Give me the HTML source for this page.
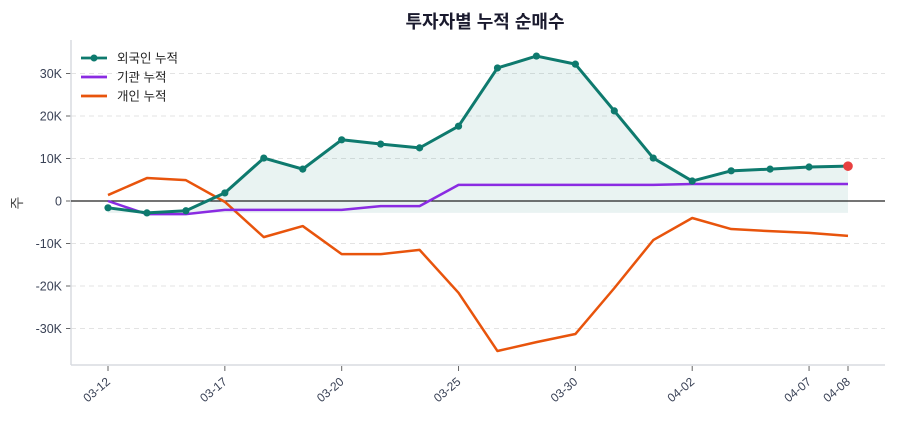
<!DOCTYPE html>
<html><head><meta charset="utf-8"><style>
body{margin:0;background:#fff;font-family:"Liberation Sans","Noto Sans CJK KR",sans-serif;}
</style></head><body>
<svg width="900" height="420" id="c" font-family="Liberation Sans, Noto Sans CJK KR, sans-serif">
<text x="485" y="28" text-anchor="middle" font-size="18" font-weight="bold" fill="#1a1a2e">투자자별 누적 순매수</text>
<text x="22" y="203" text-anchor="middle" font-size="14" fill="#444" transform="rotate(-90 22 203)">주</text>
<g id="g"></g>
</svg>
<script>
const labels=["03-12","03-13","03-14","03-17","03-18","03-19","03-20","03-21","03-24","03-25","03-26","03-27","03-30","03-31","04-01","04-02","04-03","04-04","04-07","04-08"];
const tickIdx=[0,3,6,9,12,15,18,19];
const foreign=[-1.6,-2.8,-2.3,1.9,10.1,7.5,14.4,13.4,12.5,17.6,31.3,34.1,32.2,21.2,10.1,4.7,7.1,7.5,8.0,8.2];
const inst=[0,-3.1,-3.1,-2.1,-2.1,-2.1,-2.1,-1.2,-1.2,3.8,3.8,3.8,3.8,3.8,3.8,4.0,4.0,4.0,4.0,4.0];
const indiv=[1.4,5.4,4.9,-0.2,-8.5,-5.9,-12.5,-12.5,-11.5,-21.6,-35.3,-33.2,-31.3,-20.5,-9.2,-4.0,-6.6,-7.1,-7.5,-8.2];
const yTicks=[-30,-20,-10,0,10,20,30];
const X=i=>108+i*(848-108)/19, Y=v=>201-v*4.25;
const g=document.getElementById('g'),NS="http://www.w3.org/2000/svg";
function el(t,a,txt){const e=document.createElementNS(NS,t);for(const k in a)e.setAttribute(k,a[k]);if(txt!=null)e.textContent=txt;g.appendChild(e);return e;}
yTicks.forEach(v=>{
 if(v!==0){const l=el('line',{x1:71,x2:885,y1:Y(v),y2:Y(v),stroke:'#e3e3e3','stroke-dasharray':'5,4'});
 
 }
 el('line',{x1:66,x2:71,y1:Y(v),y2:Y(v),stroke:'#666'});
 const t=el('text',{x:62,y:Y(v)+4.5,'text-anchor':'end','font-size':12.5,fill:'#3a4256'},v===0?'0':v+'K');
 
 
});
el('line',{x1:71,x2:71,y1:40,y2:365,stroke:'#d8dbe0','stroke-width':1.5});
el('line',{x1:71,x2:885,y1:365,y2:365,stroke:'#d8dbe0','stroke-width':1.5});
tickIdx.forEach(i=>{
 el('line',{x1:X(i),x2:X(i),y1:366,y2:371,stroke:'#666'});
 const t=el('text',{x:X(i)+3,y:383,'text-anchor':'end','font-size':12,fill:'#3a4256',transform:`rotate(-40 ${X(i)+3} 383)`},labels[i]);
 
 
});
const base=Math.min(...foreign);
let d=foreign.map((v,i)=>(i?'L':'M')+X(i)+','+Y(v)).join('')+`L${X(19)},${Y(base)}L${X(0)},${Y(base)}Z`;
const a=el('path',{d:d,fill:'#0e7a6e','fill-opacity':0.09});


el('line',{x1:71,x2:885,y1:Y(0),y2:Y(0),stroke:'#222','stroke-width':1.2});
function line(arr,col,name,w){const p=el('polyline',{points:arr.map((v,i)=>X(i)+','+Y(v)).join(' '),fill:'none',stroke:col,'stroke-width':w,'stroke-linejoin':'round'});
 
 }
line(indiv,'#e8540c','individual-line',2.5);
line(inst,'#8a2be2','institution-line',2.5);
line(foreign,'#0e7a6e','foreign-line',3);
foreign.forEach((v,i)=>{const c=el('circle',{cx:X(i),cy:Y(v),r:i===19?4.8:3.6,fill:i===19?'#e84040':'#0e7a6e'});
 
 });
const leg=[['외국인 누적','#0e7a6e',1],['기관 누적','#8a2be2',0],['개인 누적','#e8540c',0]];
leg.forEach((l,k)=>{const y=58+k*19;
 el('line',{x1:81,x2:107,y1:y,y2:y,stroke:l[1],'stroke-width':2.8});
 if(l[2])el('circle',{cx:94,cy:y,r:3.5,fill:l[1]});
 const t=el('text',{x:117,y:y+4.5,'font-size':12.5,fill:'#222'},l[0]);
 
 });
</script>
</body></html>
